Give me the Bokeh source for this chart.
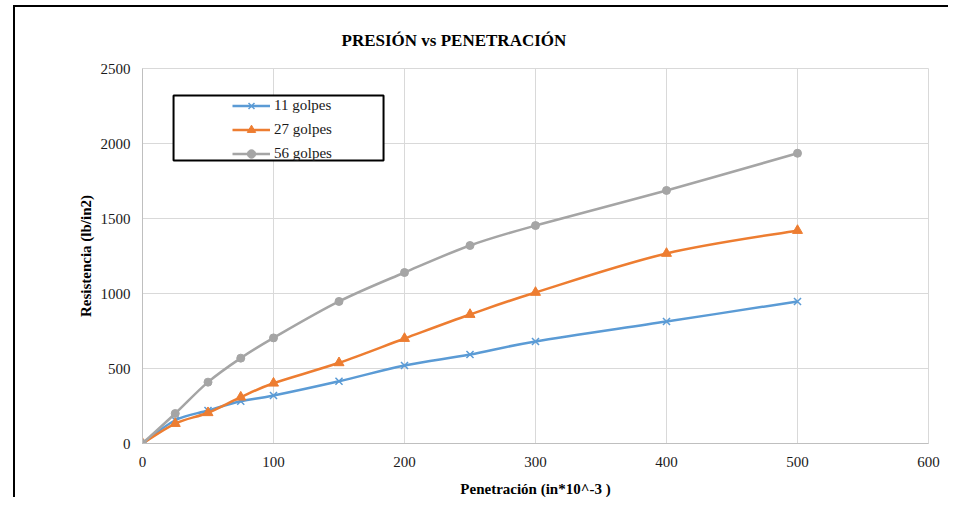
import numpy as np
from bokeh.plotting import figure
from bokeh.models import (ColumnDataSource, Legend, LegendItem, BoxAnnotation,
                          FixedTicker, Range1d)
from bokeh.embed import file_html
from bokeh.resources import INLINE

# ---- data ----
penetracion = [0, 25, 50, 75, 100, 150, 200, 250, 300, 400, 500]
golpes_11 = [0, 155, 220, 282, 320, 415, 520, 593, 680, 813, 947]
golpes_27 = [0, 133, 205, 309, 402, 538, 700, 860, 1007, 1267, 1420]
golpes_56 = [0, 200, 409, 569, 704, 947, 1140, 1320, 1453, 1687, 1935]
series_names = ["11 golpes", "27 golpes", "56 golpes"]
x_ticks = [0, 100, 200, 300, 400, 500, 600]
y_ticks = [0, 500, 1000, 1500, 2000, 2500]
title_text = "PRESIÓN vs PENETRACIÓN"

colors = ["#5B9BD5", "#ED7D31", "#A5A5A5"]
markers = ["x", "triangle", "circle"]
msizes = [10, 10, 8]
FONT = "Liberation Serif"

p = figure(width=935, height=492, output_backend="svg", toolbar_location=None,
           x_range=Range1d(0, 600), y_range=Range1d(0, 2500),
           min_border_left=127, min_border_right=22, min_border_top=61,
           min_border_bottom=56, margin=(5, 0, 0, 13))
p.styles = {"border-left": "2px solid black", "border-top": "2px solid black"}

p.title.text = title_text
p.title.text_font = FONT
p.title.text_font_size = "17px"
p.title.text_font_style = "bold"
p.title.align = "left"
p.title.offset = 199
p.title.standoff = 38
p.title.text_color = "#000000"

p.outline_line_color = "#d9d9d9"
p.background_fill_color = "white"
p.border_fill_color = "white"

p.xaxis.ticker = FixedTicker(ticks=x_ticks)
p.yaxis.ticker = FixedTicker(ticks=y_ticks)
p.xgrid.ticker = FixedTicker(ticks=x_ticks)
p.ygrid.ticker = FixedTicker(ticks=y_ticks)
p.grid.grid_line_color = "#d9d9d9"
p.grid.grid_line_width = 1

for ax in (p.xaxis[0], p.yaxis[0]):
    ax.axis_line_color = "#bfbfbf"
    ax.major_tick_line_color = None
    ax.minor_tick_line_color = None
    ax.major_tick_out = 0
    ax.major_tick_in = 0
    ax.major_label_text_font = FONT
    ax.major_label_text_font_size = "15px"
    ax.major_label_text_color = "#1a1a1a"
    ax.axis_label_text_font = FONT
    ax.axis_label_text_font_size = "15px"
    ax.axis_label_text_font_style = "bold"
    ax.axis_label_text_color = "#000000"

p.xaxis.axis_label = "Penetración (in*10^-3 )"
p.yaxis.axis_label = "Resistencia (lb/in2)"
p.xaxis.major_label_standoff = 13
p.yaxis.major_label_standoff = 12
p.xaxis.axis_label_standoff = 11
p.yaxis.axis_label_standoff = 4


def smooth_bezier(xs, ys):
    P = np.column_stack([xs, ys]).astype(float)
    n = len(P)
    Pm = np.vstack([P[0], P, P[-1]])
    x0, y0, x1, y1, cx0, cy0, cx1, cy1 = ([] for _ in range(8))
    for i in range(n - 1):
        a, b, c, d = Pm[i], Pm[i + 1], Pm[i + 2], Pm[i + 3]
        c1 = b + (c - a) / 6.0
        c2 = c - (d - b) / 6.0
        x0.append(b[0]); y0.append(b[1]); x1.append(c[0]); y1.append(c[1])
        cx0.append(c1[0]); cy0.append(c1[1]); cx1.append(c2[0]); cy1.append(c2[1])
    return dict(x0=x0, y0=y0, x1=x1, y1=y1, cx0=cx0, cy0=cy0, cx1=cx1, cy1=cy1)


items = []
for name, ys, col, mk, ms in zip(series_names, [golpes_11, golpes_27, golpes_56],
                                 colors, markers, msizes):
    src = ColumnDataSource(smooth_bezier(penetracion, ys))
    p.bezier(x0="x0", y0="y0", x1="x1", y1="y1", cx0="cx0", cy0="cy0",
             cx1="cx1", cy1="cy1", source=src, line_color=col, line_width=2.5)
    leg_line = p.line(x=[np.nan], y=[np.nan], line_color=col, line_width=2.5)
    if mk == "x":
        sc = p.scatter(penetracion, ys, marker=mk, size=ms, line_color=col,
                       line_width=1.5)
    else:
        sc = p.scatter(penetracion, ys, marker=mk, size=ms, line_color=col,
                       fill_color=col)
    items.append(LegendItem(label=name, renderers=[leg_line, sc]))

box = BoxAnnotation(left=23.7, right=184, bottom=1887, top=2320,
                    fill_color="white", fill_alpha=1.0,
                    line_color="black", line_width=2, line_alpha=1.0)
p.add_layout(box)

legend = Legend(items=items, location=(90, 279), padding=0, margin=0,
                spacing=3, glyph_width=38, glyph_height=21, label_standoff=4,
                label_text_font=FONT, label_text_font_size="15px",
                label_text_color="#1a1a1a", border_line_alpha=0,
                background_fill_alpha=0)
p.add_layout(legend, "center")

open("out.html", "w").write(file_html(p, INLINE))
